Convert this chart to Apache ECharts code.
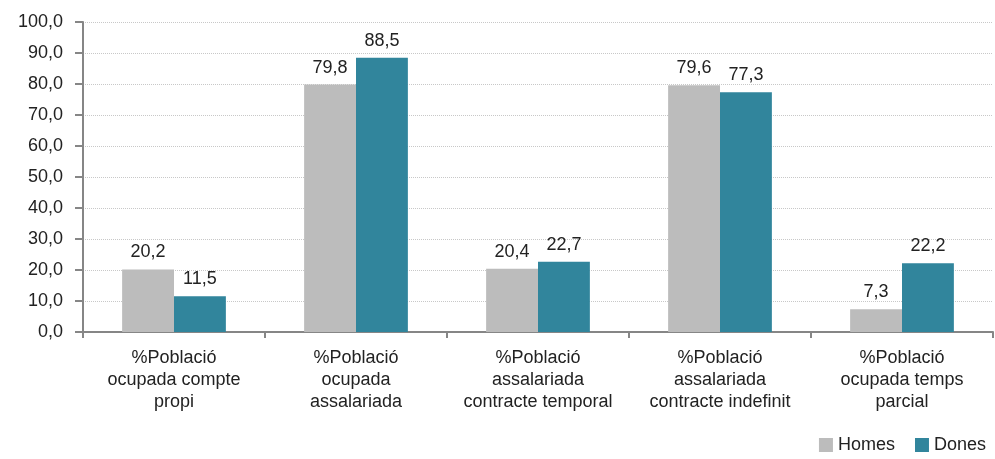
<!DOCTYPE html>
<html>
<head>
<meta charset="utf-8">
<script src="https://cdn.jsdelivr.net/npm/echarts@6/dist/echarts.min.js"></script>
<style>
  html, body { margin: 0; padding: 0; background: #fff; }
  #chart { width: 995px; height: 459px; }
</style>
</head>
<body>
<div id="chart"></div>
<script>
// categories and values
const categories = [
  "%Població\nocupada compte\npropi",
  "%Població\nocupada\nassalariada",
  "%Població\nassalariada\ncontracte temporal",
  "%Població\nassalariada\ncontracte indefinit",
  "%Població\nocupada temps\nparcial",
];
const homes = [20.2, 79.8, 20.4, 79.6, 7.3];
const dones = [11.5, 88.5, 22.7, 77.3, 22.2];

const fmt = (v) => Number(v).toFixed(1).replace(".", ",");
const font = "Liberation Sans, Arial, sans-serif";

const myChart = echarts.init(document.getElementById("chart"));
myChart.setOption({
  animation: false,
  textStyle: { fontFamily: font },
  grid: { left: 83, right: 2, top: 22, bottom: 127, containLabel: false },
  legend: {
    right: 4,
    bottom: 0,
    itemWidth: 14,
    itemHeight: 14,
    itemGap: 20,
    icon: "rect",
    textStyle: { fontSize: 18, color: "#222", fontFamily: font },
    data: ["Homes", "Dones"],
  },
  xAxis: {
    type: "category",
    data: categories,
    axisLine: { lineStyle: { color: "#868686", width: 2 } },
    axisTick: { show: true, length: 6, lineStyle: { color: "#868686", width: 2 } },
    axisLabel: {
      interval: 0,
      margin: 15,
      fontSize: 18,
      lineHeight: 22,
      color: "#222",
      fontFamily: font,
    },
  },
  yAxis: {
    type: "value",
    min: 0,
    max: 100,
    interval: 10,
    axisLine: { show: true, lineStyle: { color: "#868686", width: 2 } },
    axisTick: { show: true, length: 8, lineStyle: { color: "#868686", width: 2 } },
    splitLine: { show: true, lineStyle: { color: "#c8c8c8", type: "dotted", width: 1 } },
    axisLabel: {
      formatter: fmt,
      margin: 20,
      fontSize: 18,
      color: "#222",
      fontFamily: font,
    },
  },
  series: [
    {
      name: "Homes",
      type: "bar",
      data: homes,
      barGap: "0%",
      barCategoryGap: "43%",
      itemStyle: { color: "#bcbcbc" },
      label: {
        show: true,
        position: "top",
        distance: 8,
        formatter: (p) => fmt(p.value),
        fontSize: 18,
        color: "#222",
        fontFamily: font,
      },
    },
    {
      name: "Dones",
      type: "bar",
      data: dones,
      itemStyle: { color: "#31859c" },
      label: {
        show: true,
        position: "top",
        distance: 8,
        formatter: (p) => fmt(p.value),
        fontSize: 18,
        color: "#222",
        fontFamily: font,
      },
    },
  ],
});
</script>
</body>
</html>
